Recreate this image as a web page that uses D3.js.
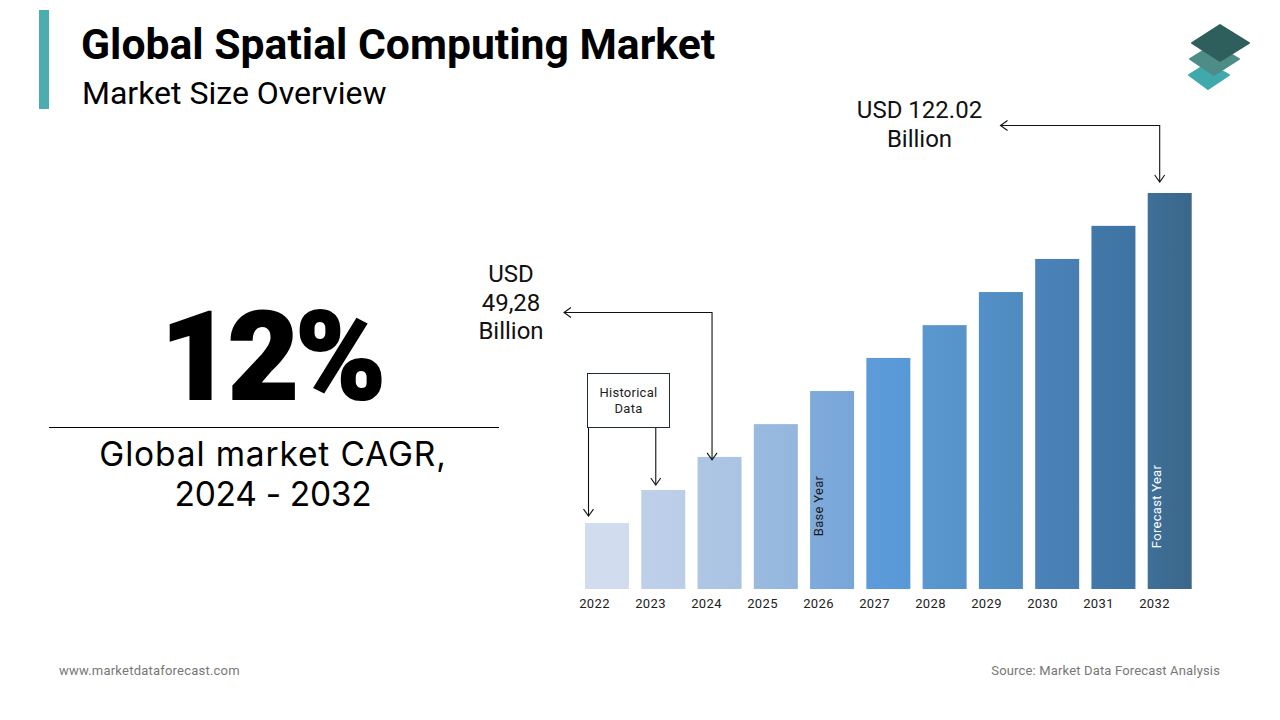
<!DOCTYPE html>
<html><head><meta charset="utf-8">
<script src="https://cdn.jsdelivr.net/npm/d3@7/dist/d3.min.js"></script>
<style>html,body{margin:0;padding:0;background:#fff}svg{display:block}text{font-family:Roboto,sans-serif}</style>
</head><body><svg id="c" width="1280" height="720"></svg>
<script>
const years = ["2022","2023","2024","2025","2026","2027","2028","2029","2030","2031","2032"];
const marketSize = [20.3,30.5,40.7,50.8,61.0,71.2,81.3,91.5,101.7,111.9,122.02];
const barStart = ["#D1DDEE","#BED0E9","#AEC6E4","#9ABAE0","#7FABDB","#5E9CD9","#5A97CE","#5290C7","#4B83B9","#4178A9","#3F7099"];
const barEnd   = ["#D1DDEE","#BBCEE8","#ABC4E3","#94B6DE","#78A6D9","#5798D7","#5693CA","#4E8BC0","#477FB3","#3E74A3","#3A6689"];
const title = "Global Spatial Computing Market";
const subtitle = "Market Size Overview";
const bigNumber = "12%";
const cagrLines = ["Global market CAGR,","2024 - 2032"];
const endLabel = ["USD 122.02","Billion"];
const baseLabel = ["USD","49,28","Billion"];
const histLabel = ["Historical","Data"];

const svg = d3.select("#c");
const defs = svg.append("defs");
const x = d3.scaleBand().domain(years).range([585,1191.7]).paddingInner(0.218).paddingOuter(0);
const y = d3.scaleLinear().domain([0,122.02]).range([589,193]);
const tickX = d3.scalePoint().domain(years).range([594,1154]);

// header
svg.append("rect").attr("x",39).attr("y",10).attr("width",10).attr("height",99).attr("fill","#4BADAD");
svg.append("text").attr("x",81).attr("y",59).attr("font-size",42.7).attr("font-weight",700).attr("fill","#000").text(title);
svg.append("text").attr("x",82).attr("y",104).attr("font-size",32).attr("fill","#000").text(subtitle);

// logo
const logo = [
 {c:"#3FA9AB",p:[[1208,63],[1229,75],[1208,89],[1189,75]]},
 {c:"#4E8C88",p:[[1214,44],[1239,59],[1214,75],[1190,59]]},
 {c:"#2F5F5C",p:[[1220,25],[1249,43],[1220,61],[1192,43]]}
];
svg.append("g").selectAll("path").data(logo).join("path")
  .attr("d",d=>d3.line()(d.p)+"Z").attr("fill",d=>d.c).attr("stroke",d=>d.c)
  .attr("stroke-width",2).attr("stroke-linejoin","round");

// KPI
svg.append("text").attr("x",271.5).attr("y",399).attr("text-anchor","middle")
  .attr("font-size",122).attr("font-weight",900).attr("letter-spacing",-3.5).attr("stroke","#000").attr("stroke-width",2).attr("fill","#000").text(bigNumber);
svg.append("line").attr("x1",49).attr("x2",499).attr("y1",427.5).attr("y2",427.5).attr("stroke","#000");
svg.append("g").selectAll("text").data(cagrLines).join("text")
  .attr("x",273).attr("y",(d,i)=>466+i*39.5).attr("text-anchor","middle")
  .style("font-family","Inter").attr("font-size",33.5).attr("letter-spacing",(d,i)=>i===0?0.85:-0.3).attr("fill","#000").text(d=>d);

// bars
years.forEach((yr,i)=>{
  const g = defs.append("linearGradient").attr("id","g"+yr);
  g.append("stop").attr("offset","0").attr("stop-color",barStart[i]);
  g.append("stop").attr("offset","1").attr("stop-color",barEnd[i]);
});
const data = years.map((yr,i)=>({yr,v:marketSize[i]}));
svg.append("g").selectAll("rect").data(data).join("rect")
  .attr("x",d=>x(d.yr)).attr("y",d=>y(d.v)).attr("width",x.bandwidth())
  .attr("height",d=>y(0)-y(d.v)).attr("fill",d=>`url(#g${d.yr})`);

// axis labels
const axis = svg.append("g").attr("transform","translate(0,589)")
  .call(d3.axisBottom(tickX).tickSize(0).tickPadding(10));
axis.select(".domain").remove();
axis.selectAll("text").style("font-family","Roboto").attr("font-size",13).attr("fill","#222").attr("letter-spacing",0.35);

// rotated notes
const rot = (px,py,t,c)=>svg.append("text").attr("transform",`translate(${px},${py}) rotate(-90)`)
  .attr("text-anchor","middle").attr("font-size",13).attr("letter-spacing",0.3).attr("fill",c).text(t);
rot(x("2026")+12.5,506,"Base Year","#1a1a1a");
rot(x("2032")+13.5,506.5,"Forecast Year","#fff");

// arrows
const val = yr=>marketSize[years.indexOf(yr)];
const head = (tx,ty,dir)=>{
  const s=7,w=5;
  const d = dir==="down" ? `M${tx-w},${ty-s}L${tx},${ty}L${tx+w},${ty-s}` : `M${tx+s},${ty-w}L${tx},${ty}L${tx+s},${ty+w}`;
  svg.append("path").attr("d",d).attr("fill","none").attr("stroke","#111").attr("stroke-width",1.1);
};
const conn = (pts)=>svg.append("path").attr("d",d3.line()(pts)).attr("fill","none").attr("stroke","#111").attr("stroke-width",1.1);

const ex = x("2032")+12, ey = y(val("2032"))-11;
conn([[1000.5,125.5],[ex,125.5],[ex,ey]]); head(1000.5,125.5,"left"); head(ex,ey,"down");
const bx = x("2024")+14.5, by = y(val("2024"))+3;
conn([[564,312.5],[bx,312.5],[bx,by]]); head(564,312.5,"left"); head(bx,by,"down");
const h1 = x("2022")+3.5, h1y = y(val("2022"))-7;
conn([[h1,428],[h1,h1y]]); head(h1,h1y,"down");
const h2 = x("2023")+14.5, h2y = y(val("2023"))-5;
conn([[h2,428],[h2,h2y]]); head(h2,h2y,"down");

// annotations
svg.append("rect").attr("x",587.5).attr("y",373.5).attr("width",82).attr("height",54).attr("fill","#fff").attr("stroke","#1d2b3a");
svg.append("g").selectAll("text").data(histLabel).join("text").attr("x",628.5).attr("y",(d,i)=>397+i*16)
  .attr("text-anchor","middle").attr("font-size",13).attr("letter-spacing",0.25).attr("fill","#222").text(d=>d);
svg.append("g").selectAll("text").data(endLabel).join("text").attr("x",919.5).attr("y",(d,i)=>118+i*29)
  .attr("text-anchor","middle").attr("font-size",24).attr("fill","#111").text(d=>d);
svg.append("g").selectAll("text").data(baseLabel).join("text").attr("x",511).attr("y",(d,i)=>282+i*28.5)
  .attr("text-anchor","middle").attr("font-size",24).attr("fill","#111").text(d=>d);

// footer
svg.append("text").attr("x",59).attr("y",675).attr("font-size",13).attr("letter-spacing",0.22).attr("fill","#777").text("www.marketdataforecast.com");
svg.append("text").attr("x",1220).attr("y",675).attr("text-anchor","end").attr("font-size",13).attr("letter-spacing",0.16).attr("fill","#777").text("Source: Market Data Forecast Analysis");
</script></body></html>
